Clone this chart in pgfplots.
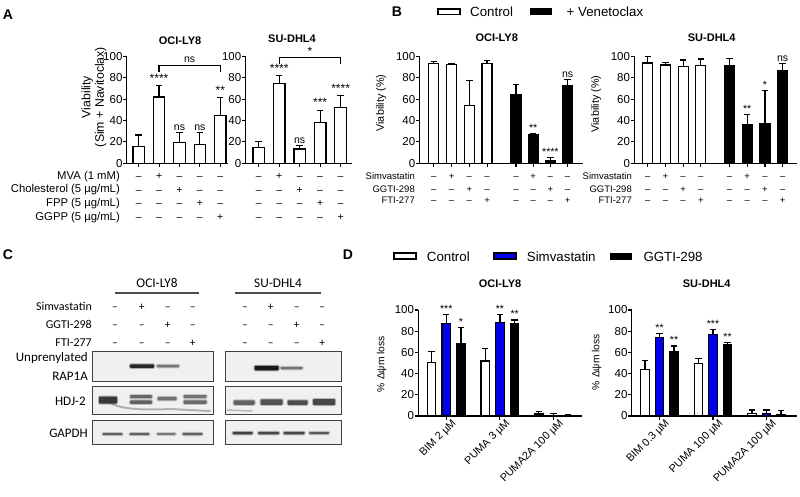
\documentclass[border=0pt]{standalone}
\usepackage{fontspec}
\setmainfont{Liberation Sans}
\newfontfamily\cali{Carlito}
\usepackage{pgfplots}
\pgfplotsset{compat=1.18}
\newcommand\fs[2]{\fontsize{#1}{#2}\selectfont}
\definecolor{gpblue}{RGB}{0,0,235}
\definecolor{blotbg}{RGB}{240,240,240}
\pgfplotsset{
  gp/.style={scale only axis, anchor=south west, axis lines*=left,
    axis line style={line width=1.2pt, black},
    tick style={line width=1.1pt, black},
    tick align=outside, major tick length=3.5pt,
    ymin=0, ymax=100, ytick={0,20,...,100},
    clip=false,
    /pgf/number format/assume math mode=true,
    yticklabel style={font=\fs{11.5}{12}, inner sep=0.6pt},
    xticklabels={},
    ybar, bar width=11pt,
  },
  eb/.style={/pgfplots/error bars/y dir=plus, /pgfplots/error bars/y explicit,
     /pgfplots/error bars/error bar style={line width=1.2pt, black},
     /pgfplots/error bars/error mark options={rotate=90, line width=1.2pt, mark size=3.2pt, black}},
  wbar/.style={fill=white, draw=black, line width=1.2pt, bar shift=0pt, eb},
  kbar/.style={fill=black, draw=black, line width=1.2pt, bar shift=0pt, eb},
  bbar/.style={fill=gpblue, draw=black, line width=1.2pt, bar shift=0pt, eb},
}
\tikzset{
  st/.style={anchor=south, font=\fs{12}{13}, inner sep=0pt, yshift=#1},
  sts/.style={anchor=south, font=\fs{10.5}{12}, inner sep=0pt, yshift=#1},
  ns/.style={anchor=south, font=\fs{10.5}{12}, inner sep=0pt, yshift=#1},
  sgn/.style={anchor=base, font=\fs{10.5}{12}, inner sep=0pt},
  ttl/.style={font=\fs{11}{12}\bfseries, inner sep=0pt},
  lab/.style={font=\fs{11.3}{12}, inner sep=0pt, anchor=base east},
  blab/.style={font=\fs{9.5}{11}, inner sep=0pt, anchor=base east},
  clab/.style={font=\cali\fs{12}{13}, inner sep=0pt, anchor=base east},
  csg/.style={font=\cali\fs{11.5}{13}, inner sep=0pt, anchor=base},
  letter/.style={font=\fs{14}{16}\bfseries, inner sep=0pt},
}
% signs for panel A (5 bars, 4 rows)
\newcommand\sgA[5]{%
  \node[sgn, yshift=-16.2pt] at (axis cs:#1,0) {#2};
  \node[sgn, yshift=-29.7pt] at (axis cs:#1,0) {#3};
  \node[sgn, yshift=-43.2pt] at (axis cs:#1,0) {#4};
  \node[sgn, yshift=-56.7pt] at (axis cs:#1,0) {#5};}
% signs for panel B (3 rows)
\newcommand\sgB[4]{%
  \node[sgn, font=\fs{9.5}{11}, yshift=-16.7pt] at (axis cs:#1,0) {#2};
  \node[sgn, font=\fs{9.5}{11}, yshift=-29.2pt] at (axis cs:#1,0) {#3};
  \node[sgn, font=\fs{9.5}{11}, yshift=-40.7pt] at (axis cs:#1,0) {#4};}
\newcommand\mi{–}
\newcommand\band[5]{%
  \fill[#5, opacity=0.35, rounded corners=1.5pt] ({(#1-#3/2-1)*1pt},{-(#2-#4/2-1)*1pt}) rectangle ({(#1+#3/2+1)*1pt},{-(#2+#4/2+1)*1pt});
  \fill[#5, rounded corners=1pt] ({(#1-#3/2)*1pt},{-(#2-#4/2)*1pt}) rectangle ({(#1+#3/2)*1pt},{-(#2+#4/2)*1pt});}
\newcommand\csigns[5]{%
  \node[csg] at (#1pt,-310.5pt) {#2};
  \node[csg] at (#1pt,-328.5pt) {#3};
  \node[csg] at (#1pt,-346pt) {#4};}
\begin{document}
\begin{tikzpicture}
\useasboundingbox (0,0) rectangle (800pt,-497pt);
\fill[white] (0,0) rectangle (800pt,-497pt);

% ---------------- Panel letters
\node[letter] at (8pt,-14.5pt) {A};
\node[letter] at (397pt,-11.5pt) {B};
\node[letter] at (8pt,-255pt) {C};
\node[letter] at (348pt,-255pt) {D};

% ================= PANEL A =================
\node[ttl] at (180pt,-40.5pt) {OCI-LY8};
\node[ttl] at (292pt,-39pt) {SU-DHL4};
\node[font=\fs{12.3}{13.5}, align=center, rotate=90, inner sep=0pt] at (94pt,-97pt) {Viability\\(Sim + Navitoclax)};
\node[lab] at (120pt,-179.5pt) {MVA (1 mM)};
\node[lab] at (120pt,-193pt) {Cholesterol (5 µg/mL)};
\node[lab] at (120pt,-206.5pt) {FPP (5 µg/mL)};
\node[lab] at (120pt,-220pt) {GGPP (5 µg/mL)};

\begin{axis}[gp, at={(126.7pt,-163.3pt)}, width=101.3pt, height=107pt,
  xmin=-0.588, xmax=4.38, xtick={0,1,2,3,4}, bar width=11.5pt]
\addplot[wbar] coordinates {(0,15.5) +- (0,10.9) (1,62) +- (0,10.4) (2,19.3) +- (0,9.6) (3,17.7) +- (0,11.2) (4,45) +- (0,16.2)};
\node[st=3pt] at (axis cs:1,72.4) {****};
\node[ns=2pt] at (axis cs:2,28.9) {ns};
\node[ns=2pt] at (axis cs:3,28.9) {ns};
\node[st=3pt] at (axis cs:4,61.2) {**};
\draw[line width=1.2pt] (axis cs:1,85.4) -- (axis cs:1,91.6) -- (axis cs:4,91.6) -- (axis cs:4,85.4);
\node[ns=2pt] at (axis cs:2.5,91.6) {ns};
\sgA{0}{\mi}{\mi}{\mi}{\mi}
\sgA{1}{+}{\mi}{\mi}{\mi}
\sgA{2}{\mi}{+}{\mi}{\mi}
\sgA{3}{\mi}{\mi}{+}{\mi}
\sgA{4}{\mi}{\mi}{\mi}{+}
\end{axis}

\begin{axis}[gp, at={(245.5pt,-163.3pt)}, width=106.2pt, height=107pt,
  xmin=-0.644, xmax=4.54, xtick={0,1,2,3,4}, bar width=11.5pt]
\addplot[wbar] coordinates {(0,14.6) +- (0,5.6) (1,74.5) +- (0,7.8) (2,13.4) +- (0,3.1) (3,38.2) +- (0,11.5) (4,52.2) +- (0,10.8)};
\node[st=3pt] at (axis cs:1,82.3) {****};
\node[ns=2pt] at (axis cs:2,16.5) {ns};
\node[st=3pt] at (axis cs:3,49.7) {***};
\node[st=3pt] at (axis cs:4,63) {****};
\draw[line width=1.2pt] (axis cs:1,93) -- (axis cs:1,98.8) -- (axis cs:4,98.8) -- (axis cs:4,93);
\node[st=2pt] at (axis cs:2.5,98.8) {*};
\sgA{0}{\mi}{\mi}{\mi}{\mi}
\sgA{1}{+}{\mi}{\mi}{\mi}
\sgA{2}{\mi}{+}{\mi}{\mi}
\sgA{3}{\mi}{\mi}{+}{\mi}
\sgA{4}{\mi}{\mi}{\mi}{+}
\end{axis}

% ================= PANEL B =================
\draw[line width=1.4pt, fill=white] (438pt,-9pt) rectangle (460pt,-14.5pt);
\node[font=\fs{13.3}{15}, anchor=west, inner sep=0pt] at (470pt,-11.7pt) {Control};
\fill[black] (530pt,-8.5pt) rectangle (552pt,-15pt);
\node[font=\fs{13.3}{15}, anchor=west, inner sep=0pt] at (566.5pt,-11.7pt) {+ Venetoclax};
\node[ttl] at (496.7pt,-37.5pt) {OCI-LY8};
\node[ttl] at (711.7pt,-37.5pt) {SU-DHL4};
\node[font=\fs{10.8}{12}, rotate=90, inner sep=0pt] at (381pt,-103pt) {Viability (\%)};
\node[font=\fs{10.8}{12}, rotate=90, inner sep=0pt] at (596pt,-104pt) {Viability (\%)};
\node[blab] at (415pt,-180pt) {Simvastatin};
\node[blab] at (415pt,-192.5pt) {GGTI-298};
\node[blab] at (415pt,-204pt) {FTI-277};
\node[blab] at (632pt,-180pt) {Simvastatin};
\node[blab] at (632pt,-192.5pt) {GGTI-298};
\node[blab] at (632pt,-204pt) {FTI-277};

\begin{axis}[gp, at={(419.5pt,-163.3pt)}, width=163.5pt, height=107pt,
  xmin=-0.81, xmax=8.41, xtick={0,1,2,3,4.63,5.6,6.57,7.54}, bar width=10pt]
\addplot[wbar] coordinates {(0,93.1) +- (0,1.9) (1,92.2) +- (0,1.2) (2,53.8) +- (0,23.4) (3,93.1) +- (0,2.9)};
\addplot[kbar] coordinates {(4.63,64) +- (0,9.4) (5.6,27.2) +- (0,0.9) (6.57,2.5) +- (0,2.8) (7.54,72.5) +- (0,5.6)};
\node[sts=1.5pt] at (axis cs:5.6,28.1) {**};
\node[sts=1.5pt] at (axis cs:6.57,5.3) {****};
\node[ns=2pt] at (axis cs:7.54,78.1) {ns};
\sgB{0}{\mi}{\mi}{\mi}
\sgB{1}{+}{\mi}{\mi}
\sgB{2}{\mi}{+}{\mi}
\sgB{3}{\mi}{\mi}{+}
\sgB{4.63}{\mi}{\mi}{\mi}
\sgB{5.6}{+}{\mi}{\mi}
\sgB{6.57}{\mi}{+}{\mi}
\sgB{7.54}{\mi}{\mi}{+}
\end{axis}

\begin{axis}[gp, at={(634.3pt,-163.3pt)}, width=162.7pt, height=107pt,
  xmin=-0.757, xmax=8.43, xtick={0,1,2,3,4.62,5.62,6.62,7.62}, bar width=10pt]
\addplot[wbar] coordinates {(0,93.7) +- (0,6) (1,91.8) +- (0,2.5) (2,90.6) +- (0,5.9) (3,91.2) +- (0,6.3)};
\addplot[kbar] coordinates {(4.62,91.2) +- (0,6.8) (5.62,36.2) +- (0,9.4) (6.62,37) +- (0,31) (7.62,87) +- (0,6.4)};
\node[sts=1.5pt] at (axis cs:5.62,45.6) {**};
\node[sts=1.5pt] at (axis cs:6.62,68) {*};
\node[ns=2pt] at (axis cs:7.62,93.4) {ns};
\sgB{0}{\mi}{\mi}{\mi}
\sgB{1}{+}{\mi}{\mi}
\sgB{2}{\mi}{+}{\mi}
\sgB{3}{\mi}{\mi}{+}
\sgB{4.62}{\mi}{\mi}{\mi}
\sgB{5.62}{+}{\mi}{\mi}
\sgB{6.62}{\mi}{+}{\mi}
\sgB{7.62}{\mi}{\mi}{+}
\end{axis}

% ================= PANEL C =================
\node[font=\cali\fs{13.3}{15}, inner sep=0pt] at (157pt,-283pt) {OCI-LY8};
\node[font=\cali\fs{13.3}{15}, inner sep=0pt] at (278pt,-283pt) {SU-DHL4};
\draw[line width=1.2pt, black!70] (115pt,-293pt) -- (199pt,-293pt);
\draw[line width=1.2pt, black!70] (235pt,-293pt) -- (321pt,-293pt);
\node[clab] at (92pt,-310.5pt) {Simvastatin};
\node[clab] at (92pt,-328.5pt) {GGTI-298};
\node[clab] at (92pt,-346pt) {FTI-277};
\csigns{115}{\mi}{\mi}{\mi}{}
\csigns{141.7}{+}{\mi}{\mi}{}
\csigns{167.7}{\mi}{+}{\mi}{}
\csigns{192.7}{\mi}{\mi}{+}{}
\csigns{245}{\mi}{\mi}{\mi}{}
\csigns{270.7}{+}{\mi}{\mi}{}
\csigns{296.7}{\mi}{+}{\mi}{}
\csigns{322.3}{\mi}{\mi}{+}{}
\node[clab, font=\cali\fs{13}{14}] at (88pt,-361pt) {Unprenylated};
\node[clab, font=\cali\fs{13}{14}] at (88pt,-380pt) {RAP1A};
\node[clab, font=\cali\fs{13}{14}] at (86pt,-405pt) {HDJ-2};
\node[clab, font=\cali\fs{13}{14}] at (88pt,-437pt) {GAPDH};
% blot boxes
\foreach \xa/\xb in {92.5/213.5, 225/341}{
  \draw[line width=0.9pt, black!75, fill=blotbg] (\xa pt,-351pt) rectangle (\xb pt,-381.5pt);
  \draw[line width=0.9pt, black!75, fill=blotbg] (\xa pt,-386pt) rectangle (\xb pt,-414.5pt);
  \draw[line width=0.9pt, black!75, fill=blotbg] (\xa pt,-420pt) rectangle (\xb pt,-444pt);
}
% RAP1A bands
\band{142}{366}{24}{3.5}{black!85}
\band{168}{366}{22}{2.5}{black!55}
\band{266.5}{368}{24}{4.5}{black!90}
\band{291.5}{368}{22}{2.5}{black!55}
% HDJ-2 bands OCI-LY8
\draw[line width=2pt, black!30, line cap=round] (112pt,-404pt) .. controls (125pt,-410pt) and (150pt,-410pt) .. (170pt,-409pt) -- (210pt,-411pt);
\band{108}{400}{18}{7}{black!78}
\band{141}{396.5}{22}{3}{black!60}
\band{141}{402}{22}{3.5}{black!62}
\band{167}{398.5}{19}{3.5}{black!55}
\band{195}{396.5}{23}{3}{black!55}
\band{195}{402}{23}{3.5}{black!58}
% HDJ-2 bands SU-DHL4
\draw[line width=1.5pt, black!28, line cap=round] (227pt,-410pt) -- (252pt,-411pt);
\band{244}{402.5}{21}{4.5}{black!62}
\band{271.5}{402}{22}{5.5}{black!68}
\band{297.5}{402.5}{20}{4.5}{black!70}
\band{324}{402}{22}{6}{black!72}
% GAPDH
\band{112.5}{434}{20}{2}{black!62}
\band{139.5}{434}{20}{2}{black!62}
\band{166.3}{434}{19}{1.8}{black!52}
\band{192.5}{434}{20}{2.2}{black!62}
\band{242.5}{433}{20}{2.5}{black!75}
\band{268.5}{433}{21}{2.5}{black!72}
\band{294}{433}{21}{2.5}{black!72}
\band{319}{433}{20}{2}{black!65}

% ================= PANEL D =================
\draw[line width=1.4pt, fill=white] (394pt,-253pt) rectangle (416pt,-259pt);
\node[font=\fs{13.3}{15}, anchor=west, inner sep=0pt] at (426.7pt,-256.7pt) {Control};
\draw[line width=1.4pt, fill=gpblue] (494pt,-253pt) rectangle (516pt,-259pt);
\node[font=\fs{13.3}{15}, anchor=west, inner sep=0pt] at (526.7pt,-256.7pt) {Simvastatin};
\fill[black] (610pt,-252.5pt) rectangle (632pt,-259.5pt);
\node[font=\fs{13.3}{15}, anchor=west, inner sep=0pt] at (643.3pt,-256.7pt) {GGTI-298};
\node[ttl] at (500pt,-283.8pt) {OCI-LY8};
\node[ttl] at (706.7pt,-283.8pt) {SU-DHL4};
\node[font=\fs{10.3}{12}, rotate=90, inner sep=0pt] at (381.7pt,-364pt) {\% Δψm loss};
\node[font=\fs{10.3}{12}, rotate=90, inner sep=0pt] at (596.7pt,-362pt) {\% Δψm loss};

\begin{axis}[gp, at={(418.3pt,-416pt)}, width=163.4pt, height=106pt,
  xmin=-0.522, xmax=2.526, xtick={0,1,2}, bar width=8.5pt,
  xticklabels={BIM 2 µM, PUMA 3 µM, PUMA2A 100 µM},
  xticklabel style={rotate=45, anchor=north east, font=\fs{10.8}{12}, inner sep=0.5pt, xshift=5pt, yshift=-2pt}]
\addplot[wbar] coordinates {(-0.274,50.6) +- (0,10.1) (0.726,51.9) +- (0,11.9) (1.726,1.9) +- (0,2.2)};
\addplot[bbar] coordinates {(0,87.4) +- (0,8.5) (1,88) +- (0,7.9) (2,0.3) +- (0,1.9)};
\addplot[kbar] coordinates {(0.274,68.6) +- (0,15) (1.274,87.4) +- (0,3.2) (2.274,0.6) +- (0,0.3)};
\node[sts=2pt] at (axis cs:0,95.9) {***};
\node[sts=2pt] at (axis cs:0.274,83.6) {*};
\node[sts=2pt] at (axis cs:1,95.9) {**};
\node[sts=2pt] at (axis cs:1.274,90.6) {**};
\end{axis}

\begin{axis}[gp, at={(631.7pt,-416pt)}, width=165.3pt, height=106pt,
  xmin=-0.52, xmax=2.57, xtick={0,1,2}, bar width=8.5pt,
  xticklabels={BIM 0.3 µM, PUMA 100 µM, PUMA2A 100 µM},
  xticklabel style={rotate=45, anchor=north east, font=\fs{10.8}{12}, inner sep=0.5pt, xshift=5pt, yshift=-2pt}]
\addplot[wbar] coordinates {(-0.271,43.5) +- (0,8.5) (0.729,49.7) +- (0,4.7) (1.729,2.5) +- (0,3.2)};
\addplot[bbar] coordinates {(0,74) +- (0,4) (1,77) +- (0,4.8) (2,2.5) +- (0,3.2)};
\addplot[kbar] coordinates {(0.271,61) +- (0,5) (1.271,67) +- (0,2.2) (2.271,1) +- (0,4)};
\node[sts=2pt] at (axis cs:0,78) {**};
\node[sts=2pt] at (axis cs:0.271,66) {**};
\node[sts=2pt] at (axis cs:1,81.8) {***};
\node[sts=2pt] at (axis cs:1.271,69.2) {**};
\end{axis}
\end{tikzpicture}
\end{document}
